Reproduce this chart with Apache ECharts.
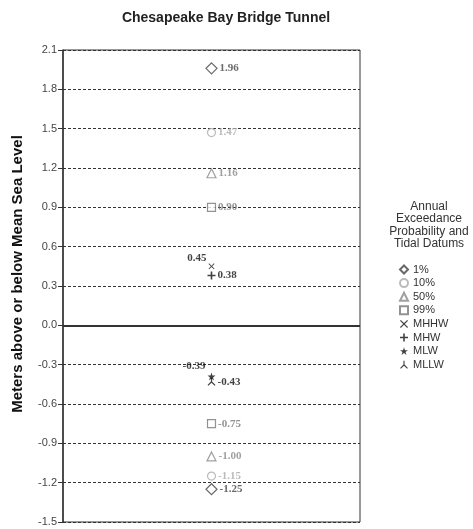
<!DOCTYPE html>
<html>
<head>
    <meta charset="utf-8">
    <title>Chesapeake Bay Bridge Tunnel</title>
    <script src="https://cdn.jsdelivr.net/npm/echarts@6/dist/echarts.min.js"></script>
    <style>
        html, body { margin: 0; padding: 0; background: #fff; }
        #main { width: 473px; height: 529px; }
    </style>
</head>
<body>
    <div id="main"></div>
    <script type="text/javascript">
        // data
        var categories = ['Chesapeake Bay Bridge Tunnel'];
        var seriesNames = ['1%', '10%', '50%', '99%', 'MHHW', 'MHW', 'MLW', 'MLLW'];
        var p1 = [1.96, -1.25];
        var p10 = [1.47, -1.15];
        var p50 = [1.16, -1.00];
        var p99 = [0.90, -0.75];
        var mhhw = [0.45];
        var mhw = [0.38];
        var mlw = [-0.39];
        var mllw = [-0.43];
        var yMin = -1.5, yMax = 2.1, yStep = 0.3;

        // marker shapes
        var xPath = 'path://M0,1 L1,0 L5,4 L9,0 L10,1 L6,5 L10,9 L9,10 L5,6 L1,10 L0,9 L4,5 Z';
        var plusPath = 'path://M4,0 H6 V4 H10 V6 H6 V10 H4 V6 H0 V4 H4 Z';
        var starPath = 'path://M5,0 L6.2,3.6 L10,3.6 L6.9,5.9 L8.1,9.6 L5,7.3 L1.9,9.6 L3.1,5.9 L0,3.6 L3.8,3.6 Z';
        var invYPath = 'path://M4.3,0 H5.7 V5 L10,9.3 L9,10.3 L5,6.5 L1,10.3 L0,9.3 L4.3,5 Z';

        var myChart = echarts.init(document.getElementById('main'));

        var labelFont = {
            fontFamily: 'Liberation Serif',
            fontWeight: 'bold',
            fontSize: 11
        };

        function makeSeries(name, values, symbol, size, style, labelColor, labelPos, labelOffset) {
            return {
                name: name,
                type: 'scatter',
                symbol: symbol,
                symbolSize: size,
                itemStyle: style,
                data: values.map(function (v) { return [categories[0], v]; }),
                label: Object.assign({
                    show: true,
                    position: labelPos || 'right',
                    distance: 2,
                    offset: labelOffset || [0, 0],
                    color: labelColor,
                    formatter: function (p) { return p.value[1].toFixed(2); }
                }, labelFont)
            };
        }

        var series = [
            makeSeries('1%', p1, 'diamond', 11, {color: '#fff', borderColor: '#444', borderWidth: 1.2}, '#444'),
            makeSeries('10%', p10, 'circle', 8, {color: '#fff', borderColor: '#aaa', borderWidth: 1.2}, '#aaa'),
            makeSeries('50%', p50, 'triangle', 9, {color: '#fff', borderColor: '#888', borderWidth: 1.2}, '#888'),
            makeSeries('99%', p99, 'rect', 8, {color: '#fff', borderColor: '#777', borderWidth: 1.2}, '#777'),
            makeSeries('MHHW', mhhw, xPath, 6, {color: '#111'}, '#111', 'left', [0, -8]),
            makeSeries('MHW', mhw, plusPath, 8, {color: '#111'}, '#111'),
            makeSeries('MLW', mlw, starPath, 8, {color: '#111'}, '#111', 'left', [0, -10]),
            makeSeries('MLLW', mllw, invYPath, 8, {color: '#111'}, '#111')
        ];

        // solid line at zero
        series[0].markLine = {
            silent: true,
            symbol: 'none',
            label: {show: false},
            lineStyle: {type: 'solid', color: '#333', width: 2},
            data: [{yAxis: 0}]
        };

        var option = {
            animation: false,
            title: [
                {
                    text: 'Chesapeake Bay Bridge Tunnel',
                    left: 221,
                    top: 6,
                    textAlign: 'center',
                    textStyle: {fontFamily: 'Liberation Sans', fontSize: 14, fontWeight: 'bold', color: '#222'}
                },
                {
                    text: 'Annual\nExceedance\nProbability and\nTidal Datums',
                    left: 424,
                    top: 195,
                    textAlign: 'center',
                    textStyle: {fontFamily: 'Liberation Sans', fontSize: 12, fontWeight: 'normal', color: '#333', lineHeight: 12.5}
                }
            ],
            legend: {
                orient: 'vertical',
                left: 399,
                top: 264,
                padding: 0,
                itemWidth: 8,
                itemHeight: 8,
                itemGap: 2.6,
                textStyle: {fontFamily: 'Liberation Sans', fontSize: 11, color: '#333'},
                data: seriesNames
            },
            grid: {
                left: 63,
                right: 113,
                top: 50,
                bottom: 7,
                show: true,
                borderColor: '#333',
                borderWidth: 1
            },
            xAxis: {
                type: 'category',
                data: categories,
                boundaryGap: true,
                axisLine: {show: false},
                axisTick: {show: false},
                axisLabel: {show: false},
                splitLine: {show: false}
            },
            yAxis: {
                type: 'value',
                min: yMin,
                max: yMax,
                interval: yStep,
                name: 'Meters above or below Mean Sea Level',
                nameLocation: 'middle',
                nameGap: 38,
                nameTextStyle: {fontFamily: 'Liberation Sans', fontSize: 15, fontWeight: 'bold', color: '#111', padding: [0, 0, 0, 24]},
                axisLine: {show: true, lineStyle: {color: '#333', width: 1.5}},
                axisTick: {show: true, length: 5, lineStyle: {color: '#333'}},
                axisLabel: {
                    margin: 6,
                    fontFamily: 'Liberation Sans',
                    fontSize: 11,
                    color: '#444',
                    formatter: function (v) { return v.toFixed(1); }
                },
                splitLine: {show: true, lineStyle: {type: [3, 2], color: '#333', width: 1}}
            },
            series: series
        };
        myChart.setOption(option);
    </script>
</body>
</html>
